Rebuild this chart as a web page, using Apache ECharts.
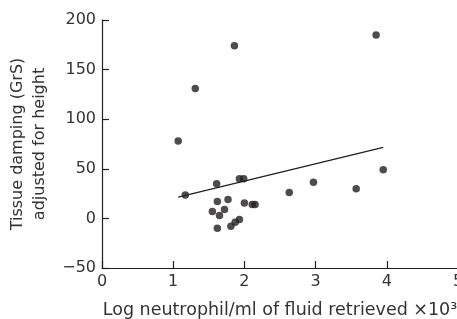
<!DOCTYPE html>
<html>
<head>
<meta charset="utf-8">
<script src="https://cdn.jsdelivr.net/npm/echarts@6/dist/echarts.min.js"></script>
<style>
  html, body { margin: 0; padding: 0; background: #fff; }
  #chart { width: 457px; height: 319px; }
</style>
</head>
<body>
<div id="chart"></div>
<script>
// log neutrophil (x) vs tissue damping (y)
const neutrophil = [1.07, 1.31, 1.86, 3.85, 1.17, 1.61, 1.93, 1.99, 1.62, 1.77, 2.0, 2.11, 2.15,
    1.55, 1.72, 1.65, 1.62, 1.81, 1.87, 1.93, 2.63, 2.97, 3.57, 3.95]
const damping = [78, 131, 174, 185, 23.5, 35, 40, 40, 17, 19, 15.5, 14, 14,
    7, 9, 3, -10, -8, -4, -1, 26, 36.5, 30, 49]
// regression line end points
const fitX = [1.07, 3.95]
const fitY = [21.5, 71.5]

const xTicks = [0, 1, 2, 3, 4, 5]
const yTicks = [-50, 0, 50, 100, 150, 200]

window.onload = function () {
    let chart = echarts.init(document.getElementById('chart'))
    let ink = '#231f20'
    let font = 'DejaVu Sans'
    let points = neutrophil.map((x, i) => [x, damping[i]])
    let fit = fitX.map((x, i) => [x, fitY[i]])

    let option = {
        animation: false,
        grid: { left: 102, top: 20, right: -1, bottom: 51, containLabel: false, outerBoundsMode: 'none' },
        xAxis: {
            type: 'value',
            min: xTicks[0],
            max: xTicks[xTicks.length - 1],
            interval: 1,
            splitLine: { show: false },
            axisLine: { onZero: false, lineStyle: { color: ink, width: 1.2 } },
            axisTick: { show: true, inside: true, length: 7, lineStyle: { color: ink, width: 1.2 } },
            axisLabel: { color: '#333', fontFamily: font, fontSize: 16, margin: 6,
                showMinLabel: true, showMaxLabel: true },
            name: 'Log neutrophil/ml of fluid retrieved ×10³',
            nameLocation: 'middle',
            nameGap: 33,
            nameTextStyle: { color: '#333', fontFamily: font, fontSize: 17.5 }
        },
        yAxis: {
            type: 'value',
            min: yTicks[0],
            max: yTicks[yTicks.length - 1],
            interval: 50,
            splitLine: { show: false },
            axisLine: { show: true, onZero: false, lineStyle: { color: ink, width: 1.2 } },
            axisTick: { show: true, inside: true, length: 7, lineStyle: { color: ink, width: 1.2 } },
            axisLabel: {
                color: '#333', fontFamily: font, fontSize: 16, margin: 6,
                formatter: (v) => String(v).replace('-', '\u2212')
            },
            name: 'Tissue damping (GrS)\nadjusted for height',
            nameLocation: 'middle',
            nameGap: 50,
            nameTextStyle: { color: '#333', fontFamily: font, fontSize: 16, lineHeight: 22 }
        },
        series: [
            {
                type: 'line',
                data: fit,
                symbol: 'none',
                lineStyle: { color: ink, width: 1.3 },
                z: 1
            },
            {
                type: 'scatter',
                data: points,
                symbolSize: 7.5,
                itemStyle: { color: ink },
                z: 2
            }
        ]
    }
    chart.setOption(option)
}
</script>
</body>
</html>
